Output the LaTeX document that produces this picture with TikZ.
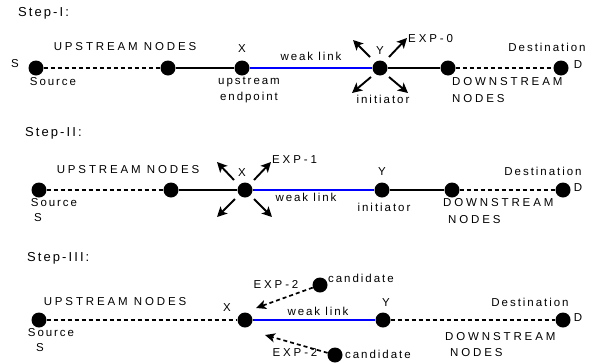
\documentclass[tikz,border=0pt]{standalone}
\usepackage{fontspec}
\setmainfont{Liberation Sans}
\newfontfamily\lsfont[LetterSpace=17]{Liberation Sans}
\newfontfamily\capsfont[LetterSpace=25]{Liberation Sans}
\newfontfamily\ttlfont[LetterSpace=16]{Liberation Sans}
\usetikzlibrary{arrows.meta,calc}
\begin{document}
\begin{tikzpicture}[x=1pt,y=-1pt,
  dot/.style={circle,fill=black,inner sep=0pt,minimum size=15pt},
  lbl/.style={inner sep=0pt,font=\fontsize{11.5}{13}\lsfont},
  capt/.style={inner sep=0pt,font=\fontsize{11.5}{13}\capsfont},
  ttl/.style={inner sep=0pt,anchor=west,font=\fontsize{13}{15}\ttlfont},
  solidline/.style={line width=1.7pt},
  weak/.style={line width=1.9pt,blue},
  dots/.style={line width=1.7pt,dash pattern=on 4pt off 3pt},
  burst/.style={line width=1.9pt,-{Stealth[length=10pt,width=10pt,inset=2.5pt]}},
  cand/.style={dots,-{Stealth[length=10pt,width=9pt,inset=2.5pt]}}
]
\useasboundingbox (0,0) rectangle (602,362);

% ---------------- Step I ----------------
\node[ttl] (t1) at (18,13) {Step-I:};
\node[dot] (s1) at (36,68) {};
\node[dot] (u1) at (168,68) {};
\node[dot] (x1) at (242,68) {};
\node[dot] (y1) at (380,68) {};
\node[dot] (n1) at (448,68) {};
\node[dot] (d1) at (561,68) {};
\draw[dots] (s1) -- (u1);
\draw[solidline] (u1) -- (x1);
\draw[weak] (x1) -- (y1);
\draw[solidline] (y1) -- (n1);
\draw[dots] (n1) -- (d1);
\node[lbl] (s1l) at (15,64) {S};
\node[lbl] (s1s) at (53,82) {Source};
\node[capt] (up1) at (125,47) {UPSTREAM NODES};
\node[lbl] (x1l) at (242,49) {X};
\node[lbl] (x1a) at (249,82) {upstream};
\node[lbl] (x1b) at (249,98) {endpoint};
\node[lbl] (w1) at (311,56) {weak link};
\node[lbl] (y1l) at (380,51) {Y};
\node[capt,anchor=west] (e0) at (408,39) {EXP-0};
\node[lbl] (i1) at (383,99) {initiator};
\node[lbl] (de1) at (547,47) {Destination};
\node[lbl] (d1l) at (578,65) {D};
\node[capt,anchor=west] (dn1) at (452,82) {DOWNSTREAM};
\node[capt,anchor=west] (nn1) at (452,99) {NODES};
\draw[burst] ($(y1)+(-10,-11)$) -- ($(y1)+(-27,-28)$);
\draw[burst] ($(y1)+(9,-11)$) -- ($(y1)+(27,-30)$);
\draw[burst] ($(y1)+(-9,9)$) -- ($(y1)+(-28,25)$);
\draw[burst] ($(y1)+(9,9)$) -- ($(y1)+(28,25)$);

% ---------------- Step II ----------------
\node[ttl] (t2) at (25,133) {Step-II:};
\node[dot] (s2) at (39,190) {};
\node[dot] (u2) at (171,190) {};
\node[dot] (x2) at (245,190) {};
\node[dot] (y2) at (382,190) {};
\node[dot] (n2) at (452,190) {};
\node[dot] (d2) at (563,190) {};
\draw[dots] (s2) -- (u2);
\draw[solidline] (u2) -- (x2);
\draw[weak] (x2) -- (y2);
\draw[solidline] (y2) -- (n2);
\draw[dots] (n2) -- (d2);
\node[lbl] (s2s) at (54,203) {Source};
\node[lbl] (s2l) at (38,218) {S};
\node[capt] (up2) at (128,170) {UPSTREAM NODES};
\node[lbl] (x2l) at (242,173) {X};
\node[capt,anchor=west] (e1) at (272,160) {EXP-1};
\node[lbl] (w2) at (306,197) {weak link};
\node[lbl] (y2l) at (382,172) {Y};
\node[lbl] (i2) at (384,207) {initiator};
\node[lbl] (de2) at (543,171) {Destination};
\node[lbl] (d2l) at (578,188) {D};
\node[capt,anchor=west] (dn2) at (443,203) {DOWNSTREAM};
\node[capt,anchor=west] (nn2) at (448,220) {NODES};
\draw[burst] ($(x2)+(-11,-10)$) -- ($(x2)+(-28,-28)$);
\draw[burst] ($(x2)+(9,-10)$) -- ($(x2)+(26,-28)$);
\draw[burst] ($(x2)+(-10,9)$) -- ($(x2)+(-28,27)$);
\draw[burst] ($(x2)+(9,9)$) -- ($(x2)+(27,27)$);

% ---------------- Step III ----------------
\node[ttl] (t3) at (27,258) {Step-III:};
\node[dot] (s3) at (39,320) {};
\node[dot] (x3) at (245,320) {};
\node[dot] (y3) at (383,320) {};
\node[dot] (d3) at (563,320) {};
\node[dot] (c1) at (320,285) {};
\node[dot] (c2) at (335,355) {};
\coordinate (tp1) at (256,308);
\coordinate (tp2) at (265,335);
\draw[dots] (s3) -- (x3);
\draw[weak] (x3) -- (y3);
\draw[dots] (y3) -- (d3);
\draw[cand] (c1) -- (tp1);
\draw[cand] (c2) -- (tp2);
\node[lbl] (s3s) at (51,333) {Source};
\node[lbl] (s3l) at (40,348) {S};
\node[capt] (up3) at (115,302) {UPSTREAM NODES};
\node[lbl] (x3l) at (227,308) {X};
\node[lbl] (y3l) at (386,303) {Y};
\node[lbl] (w3) at (318,311) {weak link};
\node[lbl,anchor=west] (c1l) at (328,278) {candidate};
\node[lbl,anchor=west] (c2l) at (345,354) {candidate};
\node[capt] (e2a) at (276,284) {EXP-2};
\node[capt] (e2b) at (295,352) {EXP-2};
\node[lbl] (de3) at (530,302) {Destination};
\node[lbl] (d3l) at (578,318) {D};
\node[capt,anchor=west] (dn3) at (445,337) {DOWNSTREAM};
\node[capt,anchor=west] (nn3) at (450,353) {NODES};
\end{tikzpicture}
\end{document}
